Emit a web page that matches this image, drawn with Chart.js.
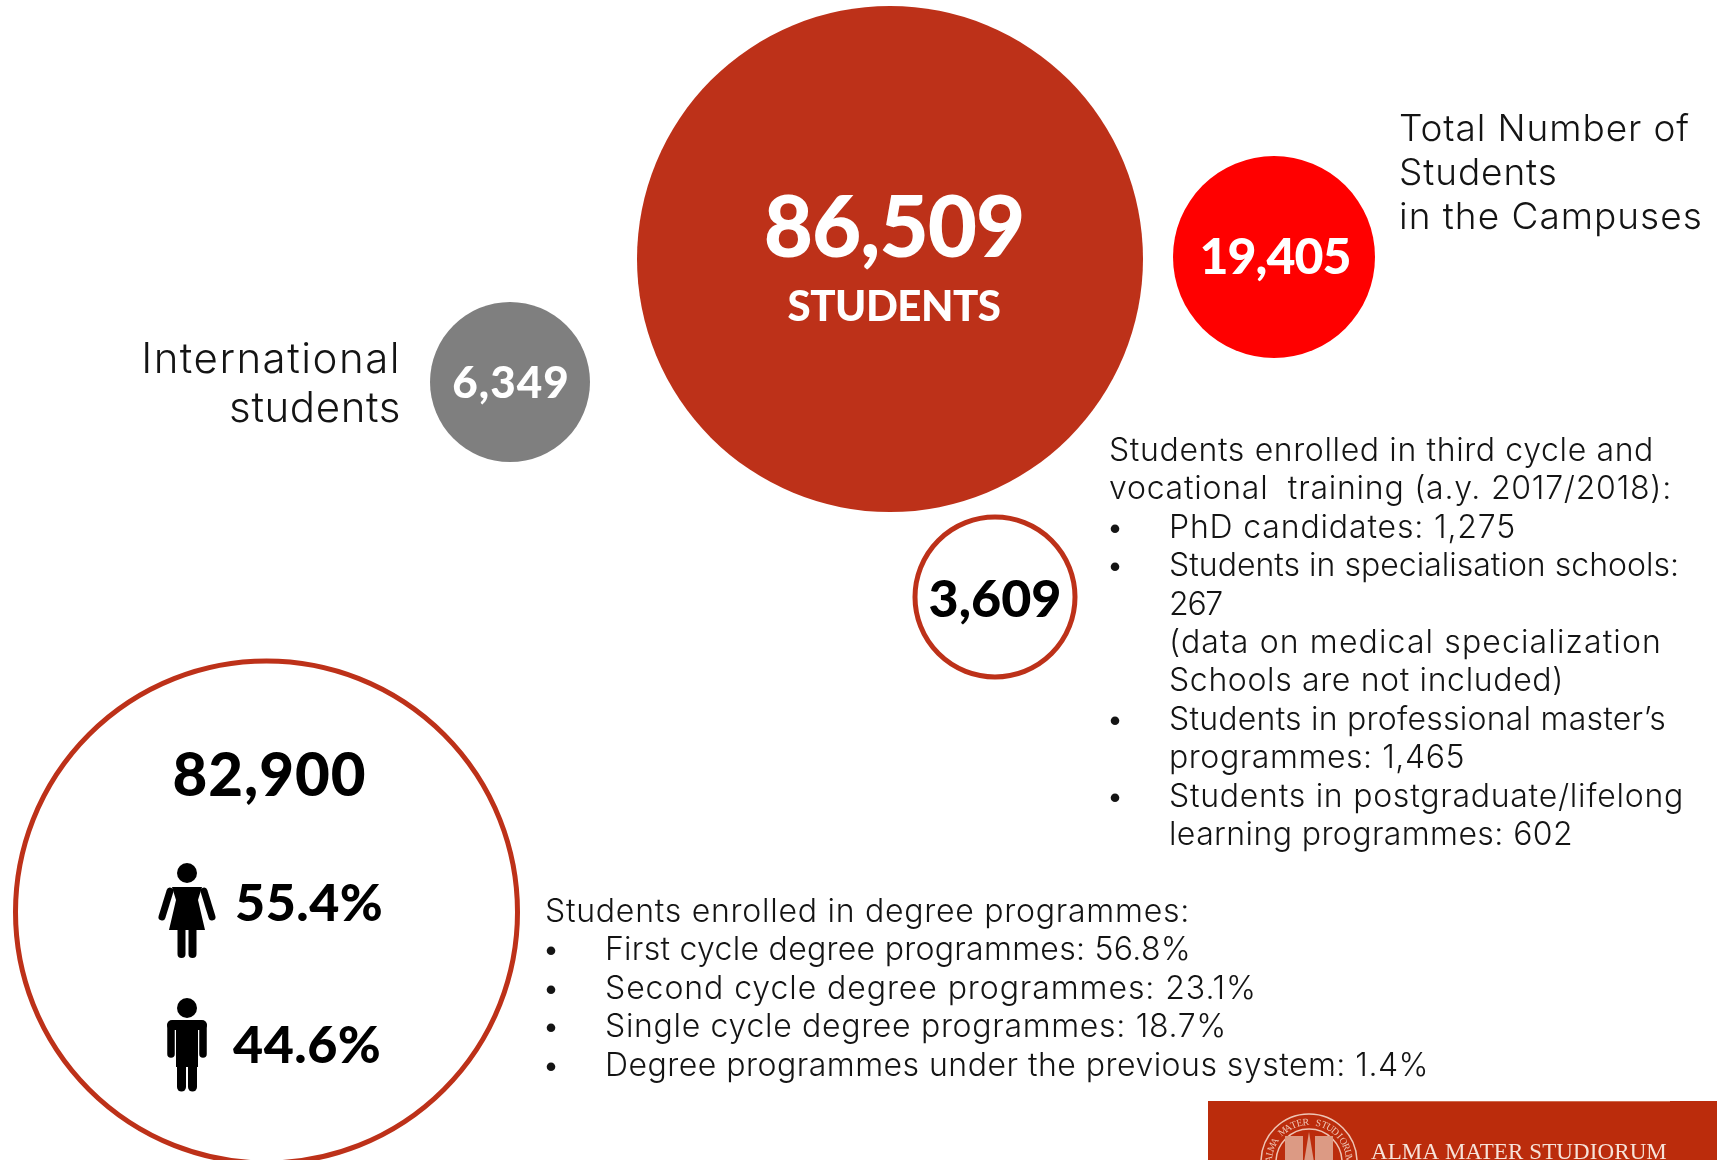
<!DOCTYPE html>
<html>
<head>
<meta charset="utf-8">
<title>Students</title>
<script src="https://cdn.jsdelivr.net/npm/chart.js@4"></script>
<style>
html, body { margin: 0; padding: 0; background: #fff; overflow: hidden; }
canvas { display: block; }
</style>
</head>
<body>
<canvas id="grafica" width="1717" height="1160"></canvas>
<script>
// Data
const bubbleNames = ['Total students', 'Campuses', 'International', 'Third cycle', 'Degree programmes'];
const bubbleValues = [86509, 19405, 6349, 3609, 82900];
const genderShares = [55.4, 44.6];
const thirdCycleCounts = [1275, 267, 1465, 602];
const degreeShares = [56.8, 23.1, 18.7, 1.4];

// Layout in page pixels (the circles in the picture are not scaled to value)
const bubbleX = [890, 1274, 510, 995, 266.5];
const bubbleY = [259, 257, 382, 597, 912];
const bubbleR = [253, 101, 80, 80, 251];
const bubbleFill = ['#bd3119', '#ff0000', '#7f7f7f', '#ffffff', '#ffffff'];
const bubbleBorder = ['#bd3119', '#ff0000', '#7f7f7f', '#bd3119', '#bd3119'];
const bubbleBorderWidth = [0, 0, 0, 5, 5];

const fmt = n => n.toLocaleString('en-US');
const LIGHT = '300 32px Inter, sans-serif';
const TXT = '#141414';

function put(ctx, text, x, y, font, color, align, spacing) {
    ctx.font = font;
    ctx.fillStyle = color;
    ctx.textAlign = align || 'left';
    ctx.textBaseline = 'alphabetic';
    ctx.letterSpacing = (spacing || 0) + 'px';
    ctx.fillText(text, x, y);
}

// the source font is wider than anything installed, so each line is spaced out to its right edge
function putFit(ctx, text, x, right, y) {
    ctx.font = LIGHT;
    ctx.letterSpacing = '0px';
    const spacing = (right - x - ctx.measureText(text).width) / text.length;
    put(ctx, text, x, y, LIGHT, TXT, 'left', spacing);
}

function drawList(ctx, lines, x, y, step) {
    lines.forEach((l, i) => {
        const yy = y + i * step;
        if (l.bullet) put(ctx, '•', x - 3, yy, LIGHT, TXT);
        putFit(ctx, l.text, l.indent ? x + 60 : x, l.right, yy);
    });
}

function limb(ctx, x1, y1, x2, y2, w) {
    ctx.lineWidth = w;
    ctx.lineCap = 'round';
    ctx.beginPath();
    ctx.moveTo(x1, y1);
    ctx.lineTo(x2, y2);
    ctx.stroke();
}

function drawWoman(ctx, cx, top) {
    ctx.fillStyle = '#000';
    ctx.strokeStyle = '#000';
    ctx.beginPath();
    ctx.arc(cx, top + 9, 10, 0, Math.PI * 2);
    ctx.fill();
    ctx.beginPath();
    ctx.moveTo(cx - 15, top + 23);
    ctx.lineTo(cx + 15, top + 23);
    ctx.lineTo(cx + 11, top + 36);
    ctx.lineTo(cx + 18, top + 66);
    ctx.lineTo(cx - 18, top + 66);
    ctx.lineTo(cx - 11, top + 36);
    ctx.closePath();
    ctx.fill();
    limb(ctx, cx - 17, top + 27, cx - 25, top + 53, 7);
    limb(ctx, cx + 17, top + 27, cx + 25, top + 53, 7);
    limb(ctx, cx - 5.5, top + 62, cx - 5.5, top + 90, 8);
    limb(ctx, cx + 5.5, top + 62, cx + 5.5, top + 90, 8);
}

function drawMan(ctx, cx, top) {
    ctx.fillStyle = '#000';
    ctx.strokeStyle = '#000';
    ctx.beginPath();
    ctx.arc(cx, top + 9, 10, 0, Math.PI * 2);
    ctx.fill();
    ctx.beginPath();
    ctx.roundRect(cx - 20, top + 21, 40, 10, 5);
    ctx.fill();
    ctx.fillRect(cx - 11, top + 25, 22, 43);
    limb(ctx, cx - 16, top + 27, cx - 16, top + 55, 7.5);
    limb(ctx, cx + 16, top + 27, cx + 16, top + 55, 7.5);
    limb(ctx, cx - 5.5, top + 65, cx - 5.5, top + 88, 9);
    limb(ctx, cx + 5.5, top + 65, cx + 5.5, top + 88, 9);
}

function drawLogo(ctx) {
    ctx.fillStyle = '#bb2c0c';
    ctx.fillRect(1208, 1101, 509, 59);
    ctx.fillStyle = '#d06a4c';
    ctx.fillRect(1250, 1101, 420, 1);
    const sx = 1309, sy = 1162, sr = 48;
    ctx.strokeStyle = '#eec5b5';
    ctx.lineWidth = 1.5;
    ctx.beginPath(); ctx.arc(sx, sy, sr, 0, Math.PI * 2); ctx.stroke();
    ctx.beginPath(); ctx.arc(sx, sy, sr - 15, 0, Math.PI * 2); ctx.stroke();
    // seal lettering
    const seal = 'ALMA MATER STUDIORUM';
    ctx.font = '10px "Liberation Serif", serif';
    ctx.letterSpacing = '0px';
    ctx.fillStyle = '#eec5b5';
    ctx.textAlign = 'center';
    ctx.textBaseline = 'alphabetic';
    [...seal].forEach((c, i) => {
        const a = -Math.PI / 2 + (i - (seal.length - 1) / 2) * 0.158;
        ctx.save();
        ctx.translate(sx + Math.cos(a) * (sr - 11), sy + Math.sin(a) * (sr - 11));
        ctx.rotate(a + Math.PI / 2);
        ctx.fillText(c, 0, 0);
        ctx.restore();
    });
    // small towers inside the seal
    ctx.fillStyle = '#dc9a84';
    ctx.fillRect(sx - 24, sy - 26, 18, 26);
    ctx.fillRect(sx + 6, sy - 26, 18, 26);
    ctx.beginPath();
    ctx.moveTo(sx - 5, sy); ctx.lineTo(sx, sy - 30); ctx.lineTo(sx + 5, sy); ctx.fill();
    put(ctx, 'ALMA MATER STUDIORUM', 1371, 1159, '23px "Liberation Serif", serif', '#f6e3da', 'left', 0.1);
}

const textPlugin = {
    id: 'textPlugin',
    afterDatasetsDraw(chart) {
        const ctx = chart.ctx;
        const pts = chart.getDatasetMeta(0).data;
        ctx.save();

        // values inside the bubbles
        const heavy = size => '900 ' + size + 'px Lato, sans-serif';
        put(ctx, fmt(bubbleValues[0]), pts[0].x + 4, 257, heavy(85), '#fff', 'center', -1);
        put(ctx, 'STUDENTS', pts[0].x + 4, 321, heavy(42), '#fff', 'center', -0.5);
        put(ctx, fmt(bubbleValues[1]), pts[1].x + 1, 274, heavy(50), '#fff', 'center', -1);
        put(ctx, fmt(bubbleValues[2]), pts[2].x + 1, 398, heavy(44), '#fff', 'center', 1);
        put(ctx, fmt(bubbleValues[3]), pts[3].x, 617, heavy(52), '#000', 'center', 0);
        put(ctx, fmt(bubbleValues[4]), pts[4].x + 3, 796, heavy(60), '#000', 'center', 1);
        put(ctx, genderShares[0] + '%', 235, 921, heavy(52), '#000', 'left', 0.5);
        put(ctx, genderShares[1] + '%', 233, 1063, heavy(52), '#000', 'left', 0.5);
        drawWoman(ctx, 187, 864);
        drawMan(ctx, 187, 999);

        // side labels
        const big = '300 37px Inter, sans-serif';
        put(ctx, 'Total Number of', 1399, 141, big, TXT, 'left', 0.9);
        put(ctx, 'Students', 1399, 185, big, TXT, 'left', 0.9);
        put(ctx, 'in the Campuses', 1399, 229, big, TXT, 'left', 1);
        const mid = '300 42px Inter, sans-serif';
        put(ctx, 'International', 401, 373, mid, TXT, 'right', 1.5);
        put(ctx, 'students', 401, 422, mid, TXT, 'right', 0.6);

        drawList(ctx, [
            { text: 'Students enrolled in third cycle and', right: 1654 },
            { text: 'vocational  training (a.y. 2017/2018):', right: 1672 },
            { text: 'PhD candidates: ' + fmt(thirdCycleCounts[0]), bullet: true, indent: true, right: 1516 },
            { text: 'Students in specialisation schools:', bullet: true, indent: true, right: 1679 },
            { text: String(thirdCycleCounts[1]), indent: true, right: 1222 },
            { text: '(data on medical specialization', indent: true, right: 1662 },
            { text: 'Schools are not included)', indent: true, right: 1564 },
            { text: 'Students in professional master’s', bullet: true, indent: true, right: 1666 },
            { text: 'programmes: ' + fmt(thirdCycleCounts[2]), indent: true, right: 1465 },
            { text: 'Students in postgraduate/lifelong', bullet: true, indent: true, right: 1684 },
            { text: 'learning programmes: ' + thirdCycleCounts[3], indent: true, right: 1573 }
        ], 1109, 461, 38.4);

        drawList(ctx, [
            { text: 'Students enrolled in degree programmes:', right: 1190 },
            { text: 'First cycle degree programmes: ' + degreeShares[0] + '%', bullet: true, indent: true, right: 1191 },
            { text: 'Second cycle degree programmes: ' + degreeShares[1] + '%', bullet: true, indent: true, right: 1257 },
            { text: 'Single cycle degree programmes: ' + degreeShares[2] + '%', bullet: true, indent: true, right: 1227 },
            { text: 'Degree programmes under the previous system: ' + degreeShares[3] + '%', bullet: true, indent: true, right: 1429 }
        ], 545, 922, 38.4);

        drawLogo(ctx);
        ctx.restore();
    }
};

new Chart(document.getElementById('grafica').getContext('2d'), {
    type: 'bubble',
    data: {
        labels: bubbleNames,
        datasets: [{
            label: 'Students',
            data: bubbleValues.map((v, i) => ({ x: bubbleX[i], y: bubbleY[i], r: bubbleR[i], value: v })),
            backgroundColor: bubbleFill,
            borderColor: bubbleBorder,
            borderWidth: bubbleBorderWidth,
            clip: false
        }]
    },
    options: {
        responsive: false,
        animation: false,
        events: [],
        layout: { padding: 0, autoPadding: false },
        scales: {
            x: { type: 'linear', min: 0, max: 1717, display: false },
            y: { type: 'linear', min: 0, max: 1160, reverse: true, display: false }
        },
        plugins: { legend: { display: false }, tooltip: { enabled: false } }
    },
    plugins: [textPlugin]
});
</script>
</body>
</html>
